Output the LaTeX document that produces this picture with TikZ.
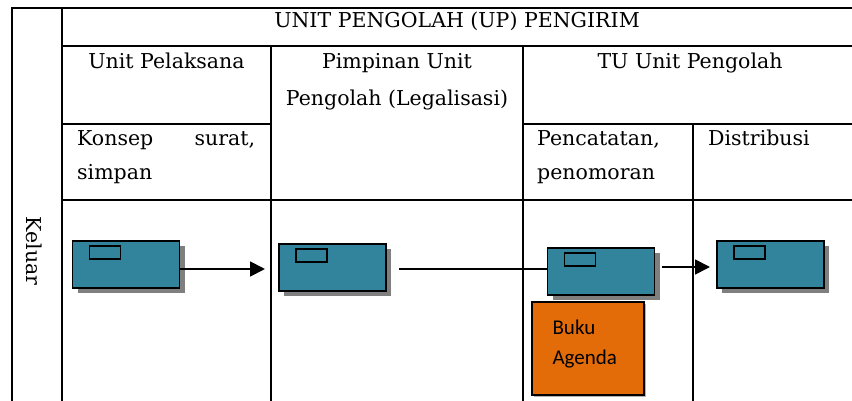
\documentclass[tikz,border=0pt]{standalone}
\usepackage{fontspec}
\setmainfont{DejaVu Serif}
\newfontfamily\calfont{Carlito}
\usetikzlibrary{arrows.meta,shadows}

\definecolor{procblue}{HTML}{31849B}
\definecolor{agendaorange}{HTML}{E36C09}
\definecolor{shadowgray}{HTML}{7F7F7F}

\tikzset{
    tabline/.style={line width=2pt},
    lbl/.style={anchor=base, inner sep=0pt, font=\fontsize{20.5}{24}\selectfont},
    proc/.style={draw, line width=1.3pt, fill=procblue, minimum width=107pt, minimum height=47pt, inner sep=0pt,
        drop shadow={shadow xshift=5pt, shadow yshift=-5pt, fill=shadowgray, opacity=1}},
    tab/.style={draw, line width=1.3pt, fill=procblue, minimum width=31pt, minimum height=13pt, inner sep=0pt, anchor=north west},
    agenda/.style={draw, line width=1.3pt, fill=agendaorange, minimum width=112pt, minimum height=93pt, inner sep=0pt,
        drop shadow={shadow xshift=2pt, shadow yshift=-2pt, fill=shadowgray!60, opacity=1}},
    agendatext/.style={anchor=north west, inner sep=0pt, align=left, font=\calfont\fontsize{21}{30}\selectfont},
    flow/.style={line width=1.8pt, -{Triangle[length=15pt,width=15pt]}}
}

\begin{document}
\begin{tikzpicture}[x=1pt, y=-1pt]
            \useasboundingbox (0,0) rectangle (852,401);
            
            % table lines
            \draw[tabline] (12,401) -- (12,8) -- (852,8);
            \draw[tabline] (62,401) -- (62,8);
            \draw[tabline] (62,46) -- (852,46);
            \draw[tabline] (62,124) -- (271,124);
            \draw[tabline] (523,124) -- (852,124);
            \draw[tabline] (62,200) -- (852,200);
            \draw[tabline] (271,46) -- (271,401);
            \draw[tabline] (523,46) -- (523,401);
            \draw[tabline] (693,124) -- (693,401);
            
            % headings
            \node[lbl] (title) at (457,28) {UNIT PENGOLAH (UP) PENGIRIM};
            \node[lbl] (pelaksana) at (166.5,69) {Unit Pelaksana};
            \node[lbl] (pimpinan) at (397,69) {Pimpinan Unit};
            \node[lbl] (legal) at (397,106) {Pengolah (Legalisasi)};
            \node[lbl] (tu) at (690,69) {TU Unit Pengolah};
            \node[lbl, anchor=base west] (konsep) at (77,146) {\makebox[178pt][s]{Konsep surat,}};
            \node[lbl, anchor=base west] (simpan) at (77,180) {simpan};
            \node[lbl, anchor=base west] (catat) at (537,146) {Pencatatan,};
            \node[lbl, anchor=base west] (nomor) at (537,180) {penomoran};
            \node[lbl, anchor=base west] (distribusi) at (708,146) {Distribusi};
            \node[lbl, anchor=center, rotate=-90] (keluar) at (34,251) {Keluar};
            
            % process boxes
            \node[proc] (b1) at (126,264.5) {};
            \node[proc] (b2) at (332.5,267.5) {};
            \node[proc] (b3) at (601,271.5) {};
            \node[proc] (b4) at (770.5,264.5) {};
            \foreach \b in {b1,b2,b3,b4}
                \node[tab] (tab\b) at ([xshift=17pt,yshift=-5pt]\b.north west) {};
            
            \node[agenda] (buku) at (588,348.5) {};
            \node[agendatext] (bukutext) at ([xshift=21pt,yshift=-18pt]buku.north west) {Buku\\Agenda};
            
            % flow
            \coordinate (a1) at (265,269);
            \coordinate (l2) at (399,269);
            \coordinate (a3s) at (662,267);
            \coordinate (a3e) at (710,267);
            \draw[flow] (b1.east |- a1) -- (a1);
            \draw[line width=1.8pt] (l2) -- (l2 -| b3.west);
            \draw[flow] (a3s) -- (a3e);
\end{tikzpicture}
\end{document}
